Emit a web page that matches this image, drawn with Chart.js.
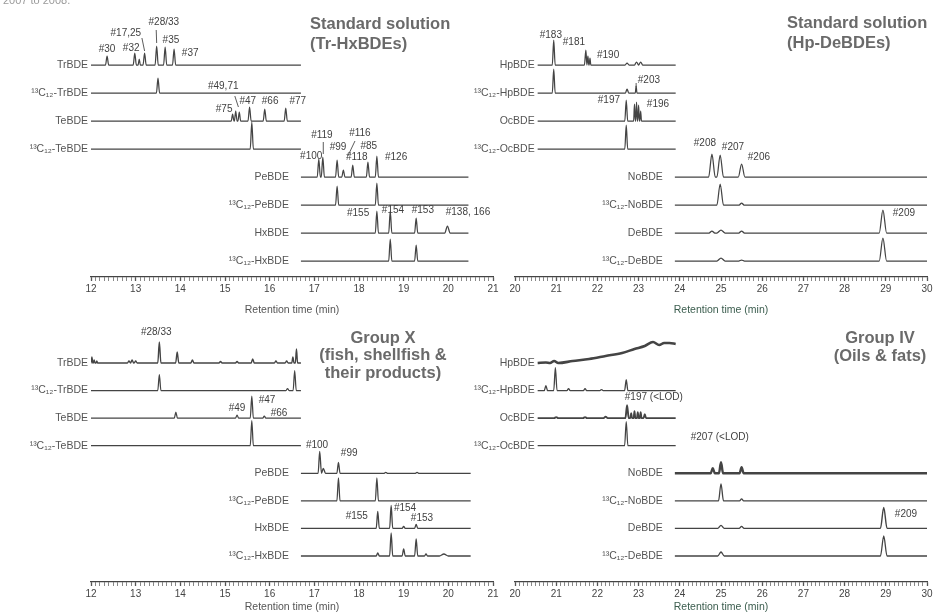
<!DOCTYPE html>
<html>
<head>
<meta charset="utf-8">
<script src="https://cdn.jsdelivr.net/npm/chart.js@4.4.0/dist/chart.umd.min.js"></script>
<style>
  html, body { margin: 0; padding: 0; background: #fff; }
  #wrap { position: relative; width: 937px; height: 613px; overflow: hidden; }
  #wrap canvas { position: absolute; left: 0; }
</style>
</head>
<body>
<div id="wrap">
  <canvas id="stdLow" width="937" height="316" style="top:0"></canvas>
  <canvas id="stdHigh" width="937" height="316" style="top:0"></canvas>
  <canvas id="fish" width="937" height="313" style="top:300px"></canvas>
  <canvas id="oil" width="937" height="313" style="top:300px"></canvas>
</div>
<script>
// ---- data ----
const lowNames = ['TrBDE', '¹³C₁₂-TrBDE', 'TeBDE', '¹³C₁₂-TeBDE', 'PeBDE', '¹³C₁₂-PeBDE', 'HxBDE', '¹³C₁₂-HxBDE'];
const highNames = ['HpBDE', '¹³C₁₂-HpBDE', 'OcBDE', '¹³C₁₂-OcBDE', 'NoBDE', '¹³C₁₂-NoBDE', 'DeBDE', '¹³C₁₂-DeBDE'];

// retention window of every trace (min)
const lowSpans = [[12, 16.7], [12, 16.7], [12, 16.7], [12, 16.7], [16.7, 20.45], [16.7, 20.45], [16.7, 20.45], [16.7, 20.45]];
const fishSpans = [[12, 16.7], [12, 16.7], [12, 16.7], [12, 16.7], [16.7, 20.5], [16.7, 20.5], [16.7, 20.5], [16.7, 20.5]];
const highSpans = [[20.55, 23.9], [20.55, 23.9], [20.55, 23.9], [20.55, 23.9], [23.88, 30], [23.88, 30], [23.88, 30], [23.88, 30]];

// peaks: [retention time, height, half width]
const stdLowPeaks = [
  [[12.36, 9], [12.98, 12], [13.08, 6, 0.025], [13.2, 12], [13.47, 19], [13.66, 18], [13.86, 16]],
  [[13.5, 15]],
  [[15.17, 7, 0.03], [15.24, 10, 0.03], [15.32, 9, 0.03], [15.55, 14], [15.89, 12], [16.36, 13]],
  [[15.6, 27]],
  [[17.1, 18], [17.19, 20], [17.51, 17], [17.65, 7], [17.86, 12], [18.2, 15], [18.4, 21]],
  [[17.51, 19], [18.4, 22]],
  [[18.4, 22], [18.7, 22], [19.28, 15], [19.98, 7, 0.06]],
  [[18.7, 22], [19.28, 16]]
];
const stdHighPeaks = [
  [[20.94, 25], [21.72, 15], [21.77, 9, 0.02], [21.82, 7, 0.02], [22.72, 2, 0.05], [22.95, 3, 0.05], [23.05, 3, 0.05]],
  [[20.94, 24], [22.72, 4, 0.04], [22.94, 7, 0.02]],
  [[22.7, 21], [22.9, 17, 0.02], [22.95, 19, 0.02], [23.0, 16, 0.02], [23.05, 10, 0.02]],
  [[22.7, 24]],
  [[24.78, 23, 0.08], [24.98, 22, 0.08], [25.5, 13, 0.08]],
  [[24.98, 21, 0.08], [25.5, 2, 0.06]],
  [[24.78, 2, 0.07], [25.0, 3, 0.1], [25.5, 2, 0.07], [28.93, 23, 0.09]],
  [[25.0, 3, 0.1], [25.5, 1, 0.07], [28.93, 23, 0.09]]
];
const fishPeaks = [
  [[12.02, 6, 0.02], [12.07, 3, 0.02], [12.13, 2, 0.02], [12.85, 2], [12.92, 3], [13.0, 2], [13.53, 21], [13.93, 11], [14.27, 3],
   [14.9, 1.5], [15.27, 1.5], [15.62, 4], [16.14, 2], [16.38, 2], [16.52, 6, 0.025], [16.6, 14, 0.025]],
  [[13.53, 16], [16.4, 2], [16.56, 20]],
  [[13.9, 6], [15.27, 3], [15.6, 22], [15.88, 2]],
  [[15.6, 25]],
  [[17.12, 22], [17.2, 5, 0.05], [17.54, 11], [18.6, 1], [19.3, 1]],
  [[17.54, 23], [18.4, 23]],
  [[18.42, 17], [18.72, 23], [19.0, 2], [19.28, 4]],
  [[18.42, 3], [18.72, 23], [19.0, 7], [19.28, 17], [19.5, 2], [19.9, 2, 0.1]]
];
const oilPeaks = [
  [],
  [[20.75, 5], [20.98, 23], [21.3, 2], [21.7, 2], [22.1, 1], [22.7, 11]],
  [[21.0, 1, 0.05], [21.7, 1, 0.05], [22.2, 1.5, 0.05], [22.72, 13], [22.82, 5, 0.02], [22.9, 7, 0.02], [22.98, 6, 0.02], [23.05, 6, 0.02], [23.15, 4, 0.03]],
  [[22.7, 24]],
  [[24.8, 5, 0.05], [25.0, 11, 0.05], [25.5, 6, 0.05]],
  [[25.0, 17, 0.06], [25.5, 2, 0.05]],
  [[25.0, 3, 0.08], [25.5, 2, 0.06], [28.95, 21, 0.08]],
  [[25.0, 4, 0.08], [28.95, 20, 0.08]]
];
// HpBDE trace of the oils & fats sample, drifting baseline: [time, signal]
const oilHpDrift = [[20.55, 0], [20.75, 0.5], [20.85, 0], [20.95, 2], [21.05, 0], [21.4, 2], [21.8, 4], [22.2, 7], [22.6, 10],
  [22.9, 14], [23.15, 17], [23.35, 21], [23.5, 18], [23.62, 20], [23.75, 20], [23.9, 19]];

// peak annotations: [text, trace, time, height above baseline]
const stdLowNotes = [
  ['#30', 0, 12.36, 16], ['#32', 0, 12.9, 17], ['#17,25', 0, 12.78, 32], ['#28/33', 0, 13.63, 43], ['#35', 0, 13.79, 25], ['#37', 0, 14.22, 12],
  ['#49,71', 2, 14.96, 35], ['#75', 2, 14.98, 12], ['#47', 2, 15.51, 20], ['#66', 2, 16.01, 20], ['#77', 2, 16.63, 20],
  ['#119', 4, 17.17, 42], ['#116', 4, 18.02, 44], ['#100', 4, 16.93, 21], ['#99', 4, 17.53, 30], ['#85', 4, 18.22, 31],
  ['#118', 4, 17.95, 20], ['#126', 4, 18.83, 20],
  ['#155', 6, 17.98, 20], ['#154', 6, 18.76, 23], ['#153', 6, 19.43, 23], ['#138, 166', 6, 20.44, 21]
];
const stdHighNotes = [
  ['#183', 0, 20.87, 30], ['#181', 0, 21.43, 23], ['#190', 0, 22.26, 10], ['#203', 1, 23.25, 13], ['#197', 2, 22.28, 21], ['#196', 2, 23.47, 17],
  ['#208', 4, 24.61, 34], ['#207', 4, 25.29, 30], ['#206', 4, 25.92, 20], ['#209', 6, 29.44, 20]
];
const fishNotes = [
  ['#28/33', 0, 13.46, 31], ['#49', 2, 15.27, 10], ['#47', 2, 15.94, 18], ['#66', 2, 16.21, 5],
  ['#100', 4, 17.06, 28], ['#99', 4, 17.78, 20], ['#155', 6, 17.95, 12], ['#154', 6, 19.03, 20], ['#153', 6, 19.41, 10]
];
const oilNotes = [['#197 (<LOD)', 2, 23.37, 21], ['#207 (<LOD)', 4, 24.97, 36], ['#209', 6, 29.49, 14]];

// leader strokes: [trace, t1, h1, t2, h2]
const stdLowLeaders = [[0, 13.14, 27, 13.2, 14], [0, 13.46, 35, 13.47, 22], [2, 15.22, 25, 15.3, 14], [4, 17.2, 35, 17.2, 23], [4, 17.91, 36, 17.75, 21]];
const stdHighLeaders = [[1, 22.94, 10, 22.94, 6]];

// ---- layout ----
const FONT = '"Liberation Sans", Arial, sans-serif';
const INK = '#444';

function tracePoints(span, peaks, base, w0) {
  const pts = [{ x: span[0], y: base }];
  let pending = null, prevT = null;
  peaks.forEach(([t, h, w]) => {
    w = w || w0;
    if (pending === null) pts.push({ x: t - w, y: base });
    else if (t - w > pending) { pts.push({ x: pending, y: base }); pts.push({ x: t - w, y: base }); }
    else pts.push({ x: (prevT + t) / 2, y: base });
    pts.push({ x: t, y: base + h });
    pending = t + w; prevT = t;
  });
  if (pending !== null) pts.push({ x: pending, y: base });
  pts.push({ x: span[1], y: base });
  return pts;
}

function makePanel(id, p) {
  const baseOf = i => p.firstBase - i * p.step;
  const datasets = p.names.map((n, i) => {
    const pts = p.drift && p.drift[i]
      ? p.drift[i].map(([t, h]) => ({ x: t, y: baseOf(i) + h }))
      : tracePoints(p.spans[i], p.peaks[i], baseOf(i), p.w0);
    return {
      label: n, data: pts, borderColor: INK, borderWidth: (p.widths && p.widths[i]) || 1.25,
      pointRadius: 0, cubicInterpolationMode: 'monotone', fill: false
    };
  });

  const decor = {
    id: 'decor' + id,
    afterDatasetsDraw(chart) {
      const { ctx, scales: { x, y } } = chart;
      const px = t => x.getPixelForValue(t);
      const py = (i, h) => y.getPixelForValue(baseOf(i) + h);
      ctx.save();
      ctx.fillStyle = '#555';
      ctx.font = '10.5px ' + FONT;
      ctx.textAlign = 'right';
      ctx.textBaseline = 'middle';
      p.names.forEach((n, i) => ctx.fillText(n, px(p.spans[i][0]) - (i < 4 ? 3 : 12), py(i, 0)));

      ctx.font = '10px ' + FONT;
      ctx.fillStyle = '#3f3f3f';
      ctx.textAlign = 'center';
      p.notes.forEach(([txt, i, t, h]) => ctx.fillText(txt, px(t), py(i, h)));

      ctx.strokeStyle = '#4a4a4a';
      ctx.lineWidth = 0.9;
      (p.leaders || []).forEach(([i, t1, h1, t2, h2]) => {
        ctx.beginPath();
        ctx.moveTo(px(t1), py(i, h1));
        ctx.lineTo(px(t2), py(i, h2));
        ctx.stroke();
      });

      const tt = p.title;
      ctx.font = 'bold 16.5px ' + FONT;
      ctx.fillStyle = '#6a6a6a';
      ctx.textAlign = tt.align;
      tt.lines.forEach((l, k) => ctx.fillText(l, tt.x, tt.y + k * tt.lineH));

      if (p.caption) {
        ctx.font = '11px ' + FONT;
        ctx.fillStyle = '#9a9a9a';
        ctx.textAlign = 'left';
        ctx.fillText(p.caption, 3, 1);
      }
      ctx.restore();
    }
  };

  new Chart(document.getElementById(id), {
    type: 'line',
    data: { datasets },
    options: {
      responsive: false,
      animation: false,
      events: [],
      layout: { padding: { left: p.left, right: p.right, top: 0, bottom: 0 } },
      plugins: { legend: { display: false }, tooltip: { enabled: false } },
      scales: {
        x: {
          type: 'linear', min: p.range[0], max: p.range[1],
          afterFit: s => { s.height = p.axisH; },
          border: { color: '#444', width: 1.2 },
          grid: {
            drawOnChartArea: false, tickLength: 4, color: '#555',
            tickWidth: c => (c.tick && Math.abs(c.tick.value - Math.round(c.tick.value)) < 1e-6 ? 1.3 : 0.7)
          },
          ticks: {
            stepSize: 0.1, autoSkip: false, maxRotation: 0, maxTicksLimit: 1000, padding: 2,
            color: '#444', font: { family: FONT, size: 10 },
            callback: v => (Math.abs(v - Math.round(v)) < 1e-6 ? String(Math.round(v)) : '')
          },
          title: {
            display: true, text: 'Retention time (min)', padding: 0,
            color: p.axisColor, font: { family: FONT, size: 10.5 }
          }
        },
        y: { display: false, min: 0, max: p.areaH }
      }
    },
    plugins: [decor]
  });
}

makePanel('stdLow', {
  names: lowNames, spans: lowSpans, peaks: stdLowPeaks, notes: stdLowNotes, leaders: stdLowLeaders,
  range: [12, 21], left: 91, right: 444, areaH: 277, axisH: 39, firstBase: 212, step: 28, w0: 0.035,
  axisColor: '#555', caption: '2007 to 2008.',
  title: { lines: ['Standard solution', '(Tr-HxBDEs)'], x: 310, y: 24, lineH: 20, align: 'left' }
});
makePanel('stdHigh', {
  names: highNames, spans: highSpans, peaks: stdHighPeaks, notes: stdHighNotes, leaders: stdHighLeaders,
  range: [20, 30], left: 515, right: 10, areaH: 277, axisH: 39, firstBase: 212, step: 28, w0: 0.035,
  axisColor: '#3b5d4e',
  title: { lines: ['Standard solution', '(Hp-DeBDEs)'], x: 787, y: 23, lineH: 20, align: 'left' }
});
makePanel('fish', {
  names: lowNames, spans: fishSpans, peaks: fishPeaks, notes: fishNotes, widths: [1.4, 1.25, 1.25, 1.25, 1.3, 1.25, 1.3, 1.3],
  range: [12, 21], left: 91, right: 444, areaH: 282, axisH: 31, firstBase: 219, step: 27.57, w0: 0.035,
  axisColor: '#555',
  title: { lines: ['Group X', '(fish, shellfish &', 'their products)'], x: 383, y: 38, lineH: 17.5, align: 'center' }
});
makePanel('oil', {
  names: highNames, spans: highSpans, peaks: oilPeaks, notes: oilNotes, drift: [oilHpDrift],
  widths: [2.6, 1.3, 1.9, 1.25, 2.4, 1.3, 1.4, 1.3],
  range: [20, 30], left: 515, right: 10, areaH: 282, axisH: 31, firstBase: 219, step: 27.57, w0: 0.04,
  axisColor: '#3b5d4e',
  title: { lines: ['Group IV', '(Oils & fats)'], x: 880, y: 38, lineH: 18, align: 'center' }
});
</script>
</body>
</html>
